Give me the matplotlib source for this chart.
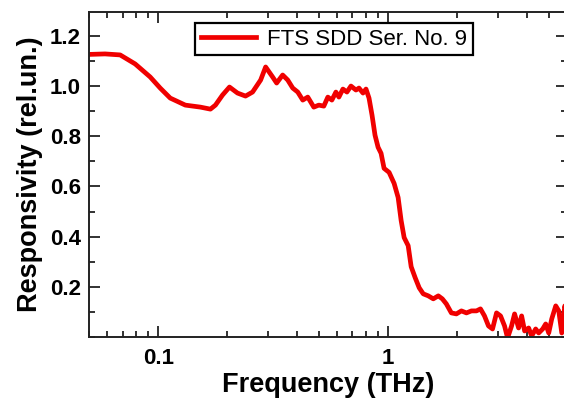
import numpy as np
import matplotlib
matplotlib.use('Agg')
import matplotlib.pyplot as plt
from matplotlib import rc
from matplotlib.ticker import FixedLocator, MultipleLocator, LogLocator, NullFormatter

rc('font', family='Liberation Sans')

# spectrum (THz, relative units)
freq = [0.0500, 0.0587, 0.0683, 0.0794, 0.0923, 0.102, 0.1128, 0.1312, 0.1526, 0.1687,
        0.1774, 0.1904, 0.2042, 0.2213, 0.2398, 0.2573, 0.2790, 0.2933, 0.3146, 0.3275,
        0.3478, 0.3659, 0.3847, 0.4046, 0.4254, 0.4473, 0.4751, 0.4995, 0.5253, 0.5470,
        0.5694, 0.5929, 0.6109, 0.6360, 0.6622, 0.6894, 0.7249, 0.7471, 0.7777, 0.8015,
        0.8261, 0.8514, 0.8773, 0.9045, 0.9320, 0.9605, 1.0101, 1.0622, 1.1056, 1.1396,
        1.1745, 1.2226, 1.2600, 1.3118, 1.3656, 1.4217, 1.4951, 1.5723, 1.6535, 1.7214,
        1.7918, 1.8843, 1.9817, 2.0836, 2.1912, 2.3044, 2.4233, 2.5227, 2.6260, 2.7336,
        2.8460, 2.9629, 3.0842, 3.2107, 3.3089, 3.4441, 3.5496, 3.6955, 3.8089, 3.9255,
        4.0868, 4.2120, 4.3853, 4.5186, 4.7043, 4.8484, 4.9968, 5.1499, 5.3613, 5.5256,
        5.6948, 5.8692, 6.05]
resp = [1.126, 1.128, 1.124, 1.088, 1.036, 0.992, 0.952, 0.924, 0.916, 0.908,
        0.924, 0.964, 0.996, 0.972, 0.960, 0.976, 1.024, 1.076, 1.036, 1.012,
        1.044, 1.024, 0.992, 0.976, 0.944, 0.956, 0.916, 0.924, 0.920, 0.956,
        0.944, 0.976, 0.956, 0.988, 0.976, 1.000, 0.984, 0.992, 0.972, 0.988,
        0.952, 0.884, 0.804, 0.756, 0.732, 0.672, 0.656, 0.612, 0.556, 0.464,
        0.396, 0.364, 0.280, 0.236, 0.196, 0.172, 0.164, 0.152, 0.164, 0.152,
        0.132, 0.096, 0.092, 0.104, 0.096, 0.104, 0.104, 0.112, 0.084, 0.044,
        0.032, 0.096, 0.084, 0.044, -0.004, 0.044, 0.092, 0.036, 0.084, 0.024,
        0.036, 0.004, 0.032, 0.016, 0.032, 0.052, 0.016, 0.072, 0.124, 0.104,
        0.016, 0.124, 0.084]

yticks = [0.2, 0.4, 0.6, 0.8, 1.0, 1.2]
xticks = [0.1, 1]

fig = plt.figure(figsize=(5.64, 3.99), dpi=100)
ax = fig.add_axes([0.1578, 0.1554, 0.8475, 0.8145])

ax.plot(freq, resp, color='#f00000', lw=3.4, solid_joinstyle='round',
        label='FTS SDD Ser. No. 9')

ax.set_xscale('log')
ax.set_xlim(0.05, 6.0)
ax.set_ylim(0.0, 1.295)

ax.xaxis.set_major_locator(FixedLocator(xticks))
ax.set_xticklabels(['0.1', '1'])
ax.xaxis.set_minor_locator(LogLocator(base=10, subs=np.arange(2, 10)))
ax.xaxis.set_minor_formatter(NullFormatter())
ax.yaxis.set_major_locator(FixedLocator(yticks))
ax.set_yticklabels([f'{t:.1f}' for t in yticks])
ax.yaxis.set_minor_locator(MultipleLocator(0.1))

ax.tick_params(which='both', direction='in', top=True, right=True, width=1.3, color='#222222')
ax.tick_params(which='major', length=8, labelsize=16)
ax.tick_params(axis='x', which='major', pad=8)
ax.tick_params(axis='y', which='major', pad=6)
ax.tick_params(which='minor', length=4.5)
for lab in ax.get_xticklabels() + ax.get_yticklabels():
    lab.set_fontweight('bold')
for s in ax.spines.values():
    s.set_linewidth(1.4)
    s.set_color('#222222')

ax.set_xlabel('Frequency (THz)', fontsize=19.5, fontweight='bold', labelpad=2)
ax.set_ylabel('Responsivity (rel.un.)', fontsize=19.5, fontweight='bold', labelpad=5)

leg = ax.legend(loc='upper left', bbox_to_anchor=(0.222, 0.966), fontsize=16,
                fancybox=False, framealpha=1, edgecolor='black', handlelength=2.5,
                borderpad=0.25, handletextpad=0.5, borderaxespad=0)
leg.get_frame().set_linewidth(1.6)

plt.savefig('out.png', dpi=100)
